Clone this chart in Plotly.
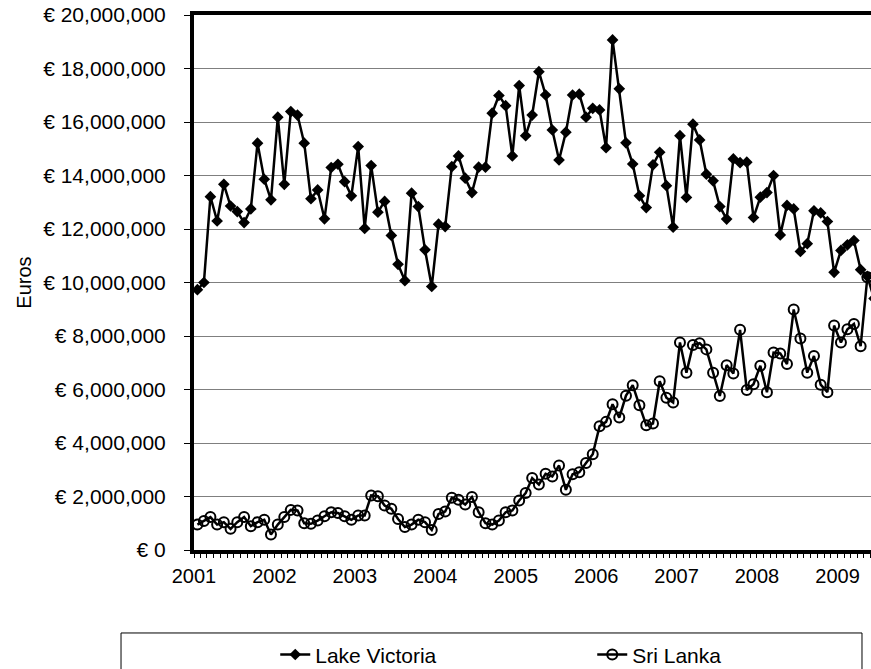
import plotly.graph_objects as go

# Monthly categories, Jan 2001 onwards
months = [f"{2001 + i // 12}-{i % 12 + 1:02d}-01" for i in range(102)]

# Values in millions of euros
lake_victoria_m = [
    9.73, 10.00, 13.21, 12.30, 13.67, 12.86, 12.65, 12.24, 12.75, 15.21, 13.86, 13.09,
    16.18, 13.67, 16.39, 16.26, 15.21, 13.13, 13.46, 12.38, 14.30, 14.42, 13.77, 13.24,
    15.08, 12.02, 14.37, 12.63, 13.03, 11.76, 10.68, 10.07, 13.34, 12.84, 11.22, 9.85,
    12.18, 12.09, 14.33, 14.73, 13.90, 13.36, 14.31, 14.31, 16.33, 16.99, 16.61, 14.73,
    17.36, 15.49, 16.26, 17.88, 17.01, 15.70, 14.58, 15.62, 17.01, 17.04, 16.18, 16.51,
    16.45, 15.04, 19.07, 17.24, 15.22, 14.43, 13.24, 12.80, 14.40, 14.87, 13.62, 12.07,
    15.49, 13.18, 15.92, 15.33, 14.05, 13.80, 12.84, 12.37, 14.62, 14.48, 14.50, 12.43,
    13.19, 13.36, 14.00, 11.78, 12.88, 12.75, 11.16, 11.45, 12.68, 12.60, 12.28, 10.38,
    11.20, 11.41, 11.57, 10.48, 10.23, 9.40,
]
sri_lanka_m = [
    0.95, 1.08, 1.23, 0.95, 1.04, 0.79, 1.04, 1.23, 0.89, 1.04, 1.13, 0.58,
    0.95, 1.23, 1.50, 1.48, 1.00, 0.98, 1.10, 1.26, 1.41, 1.38, 1.26, 1.13,
    1.29, 1.29, 2.04, 2.01, 1.66, 1.54, 1.16, 0.86, 0.95, 1.13, 1.04, 0.75,
    1.35, 1.44, 1.95, 1.88, 1.70, 1.98, 1.41, 1.00, 0.95, 1.10, 1.41, 1.48,
    1.85, 2.13, 2.69, 2.45, 2.85, 2.75, 3.16, 2.25, 2.83, 2.91, 3.25, 3.58,
    4.63, 4.79, 5.45, 4.95, 5.77, 6.16, 5.41, 4.66, 4.73, 6.31, 5.69, 5.51,
    7.76, 6.63, 7.66, 7.73, 7.50, 6.63, 5.76, 6.91, 6.60, 8.23, 5.98, 6.20,
    6.89, 5.90, 7.38, 7.35, 6.95, 8.99, 7.91, 6.63, 7.25, 6.18, 5.90, 8.39,
    7.76, 8.25, 8.45, 7.62, 10.20,
]
lake_victoria = [v * 1e6 for v in lake_victoria_m]
sri_lanka = [v * 1e6 for v in sri_lanka_m]

year_labels = ["2001", "2002", "2003", "2004", "2005", "2006", "2007", "2008", "2009"]
y_ticks = [0, 2e6, 4e6, 6e6, 8e6, 10e6, 12e6, 14e6, 16e6, 18e6, 20e6]
y_tick_labels = ["€ 0", "€ 2,000,000", "€ 4,000,000", "€ 6,000,000", "€ 8,000,000",
                 "€ 10,000,000", "€ 12,000,000", "€ 14,000,000", "€ 16,000,000",
                 "€ 18,000,000", "€ 20,000,000"]

FONT = "Liberation Sans, Arial, sans-serif"

fig = go.Figure()
fig.add_trace(go.Scatter(
    x=months[:len(sri_lanka)], y=sri_lanka, name="Sri Lanka", mode="lines+markers",
    xperiod="M1", xperiodalignment="middle", legendrank=2, legendwidth=100,
    line=dict(color="black", width=2.5),
    marker=dict(symbol="circle-open", size=10, color="black", line=dict(width=2, color="black")),
))
fig.add_trace(go.Scatter(
    x=months[:len(lake_victoria)], y=lake_victoria, name="Lake Victoria", mode="lines+markers",
    xperiod="M1", xperiodalignment="middle", legendrank=1, legendwidth=272,
    line=dict(color="black", width=2.5),
    marker=dict(symbol="diamond", size=9, color="black"),
))

fig.update_layout(
    width=871, height=669,
    margin=dict(l=194, r=0, t=15, b=119, autoexpand=False),
    paper_bgcolor="white", plot_bgcolor="white",
    font=dict(family=FONT, size=20, color="black"),
    showlegend=True,
    legend=dict(orientation="h", x=0.12, xanchor="left", y=-0.196, yanchor="middle",
                bgcolor="rgba(0,0,0,0)",
                font=dict(family=FONT, size=21, color="black"), traceorder="normal"),
    shapes=[dict(type="rect", xref="paper", yref="paper", x0=-0.1078, x1=0.9867,
                 y0=-0.1551, y1=-0.27, line=dict(color="black", width=1),
                 fillcolor="rgba(0,0,0,0)")],
)

fig.update_xaxes(
    type="date", range=["2001-01-01", "2009-06-02"], automargin=False,
    tickvals=[f"{y}-01-01" for y in year_labels], ticktext=year_labels,
    ticks="outside", ticklen=4, tickwidth=1, tickcolor="black",
    minor=dict(dtick="M1", tick0="2001-01-01", ticks="outside", ticklen=4, tickwidth=1,
               tickcolor="black", showgrid=False),
    showgrid=False, showline=True, linewidth=4, linecolor="black", mirror=True,
    tickfont=dict(family=FONT, size=20, color="black"), ticklabelstandoff=1,
    ticklabeloverflow="allow",
)
fig.update_yaxes(
    range=[0, 20e6], tickvals=y_ticks, ticktext=y_tick_labels, automargin=False,
    ticks="outside", ticklen=6, tickwidth=1, tickcolor="black",
    showgrid=True, gridcolor="#7f7f7f", gridwidth=1, zeroline=False,
    showline=True, linewidth=4, linecolor="black",
    tickfont=dict(family=FONT, size=21, color="black"), ticklabelstandoff=14,
    ticklabeloverflow="allow",
    title=dict(text="Euros", font=dict(family=FONT, size=20, color="black"), standoff=7),
)

# Remove the default 8px page margin so the figure fills the window exactly.
fig.write_html("out.html", config={"displayModeBar": False},
               post_script="document.body.style.margin='0';")
